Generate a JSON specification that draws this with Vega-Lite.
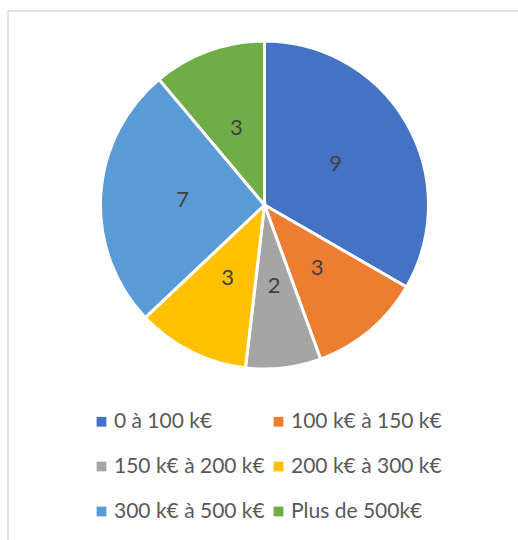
{
  "$schema": "https://vega.github.io/schema/vega-lite/v6.json",
  "width": 518,
  "height": 540,
  "autosize": {"type": "fit", "contains": "padding"},
  "padding": {"left": 7, "top": 10, "right": -4, "bottom": -4},
  "config": {"view": {"stroke": null}, "font": "Lato"},
  "datasets": {
    "border": [{"b": 1}],
    "slices": [
      {"cat": "0 à 100 k€", "n": 9, "ord": 1},
      {"cat": "100 k€ à 150 k€", "n": 3, "ord": 2},
      {"cat": "150 k€ à 200 k€", "n": 2, "ord": 3},
      {"cat": "200 k€ à 300 k€", "n": 3, "ord": 4},
      {"cat": "300 k€ à 500 k€", "n": 7, "ord": 5},
      {"cat": "Plus de 500k€", "n": 3, "ord": 6}
    ]
  },
  "layer": [
    {
      "data": {"name": "border"},
      "mark": {"type": "rect", "fill": null, "stroke": "#d9d9d9", "strokeWidth": 1.5},
      "encoding": {}
    },
    {
      "data": {"name": "slices"},
      "mark": {"type": "arc", "outerRadius": 164, "stroke": "white", "strokeWidth": 3, "yOffset": -72},
      "encoding": {
        "theta": {"field": "n", "type": "quantitative", "stack": true},
        "order": {"field": "ord", "type": "quantitative"},
        "color": {
          "field": "cat", "type": "nominal",
          "scale": {
            "domain": ["0 à 100 k€", "100 k€ à 150 k€", "150 k€ à 200 k€", "200 k€ à 300 k€", "300 k€ à 500 k€", "Plus de 500k€"],
            "range": ["#4472C4", "#ED7D31", "#A5A5A5", "#FFC000", "#5B9BD5", "#70AD47"]
          },
          "legend": {
            "orient": "none", "legendX": 83, "legendY": 400, "columns": 2, "direction": "horizontal", "title": null,
            "symbolType": "square", "symbolSize": 95, "symbolStrokeWidth": 0,
            "labelFontSize": 21, "labelColor": "#595959", "labelFont": "Lato",
            "labelOffset": 2, "columnPadding": 3, "rowPadding": 23, "labelLimit": 0, "padding": 0
          }
        }
      }
    },
    {
      "data": {"name": "slices"},
      "mark": {"type": "text", "radius": 82, "yOffset": -72, "fontSize": 22, "font": "Lato"},
      "encoding": {
        "theta": {"field": "n", "type": "quantitative", "stack": true},
        "order": {"field": "ord", "type": "quantitative"},
        "text": {"field": "n", "type": "quantitative"},
        "detail": {"field": "cat", "type": "nominal"},
        "color": {"value": "#404040"}
      }
    }
  ]
}
